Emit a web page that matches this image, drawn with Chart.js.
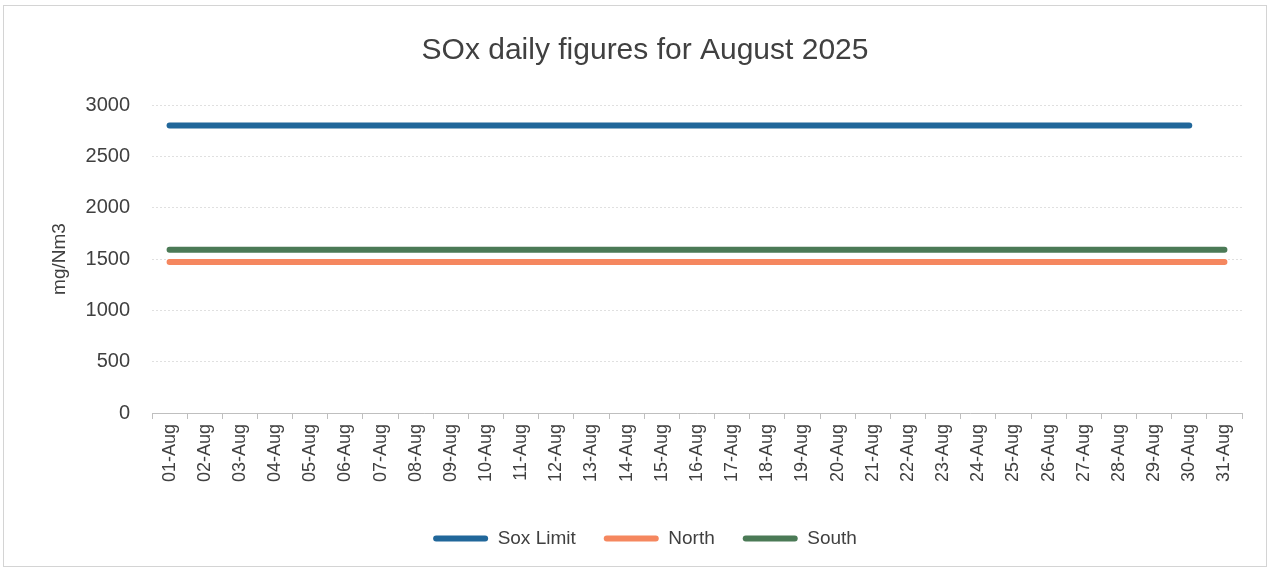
<!DOCTYPE html>
<html>
<head>
<meta charset="utf-8">
<script src="https://cdn.jsdelivr.net/npm/chart.js@4/dist/chart.umd.min.js"></script>
<style>
  html, body { margin: 0; padding: 0; background: #ffffff; }
  #frame { position: absolute; left: 3px; top: 5px; width: 1264px; height: 562px; border: 1px solid #d4d4d4; box-sizing: border-box; }
  #wrap { position: absolute; left: 0; top: 0; width: 1270px; height: 570px; }
</style>
</head>
<body>
<div id="frame"></div>
<div id="wrap"><canvas id="c" width="1270" height="570"></canvas></div>
<script>
const categories = ["01-Aug","02-Aug","03-Aug","04-Aug","05-Aug","06-Aug","07-Aug","08-Aug","09-Aug","10-Aug","11-Aug","12-Aug","13-Aug","14-Aug","15-Aug","16-Aug","17-Aug","18-Aug","19-Aug","20-Aug","21-Aug","22-Aug","23-Aug","24-Aug","25-Aug","26-Aug","27-Aug","28-Aug","29-Aug","30-Aug","31-Aug"];
const soxLimit = [2800,2800,2800,2800,2800,2800,2800,2800,2800,2800,2800,2800,2800,2800,2800,2800,2800,2800,2800,2800,2800,2800,2800,2800,2800,2800,2800,2800,2800,2800,null];
const north = [1470,1470,1470,1470,1470,1470,1470,1470,1470,1470,1470,1470,1470,1470,1470,1470,1470,1470,1470,1470,1470,1470,1470,1470,1470,1470,1470,1470,1470,1470,1470];
const south = [1590,1590,1590,1590,1590,1590,1590,1590,1590,1590,1590,1590,1590,1590,1590,1590,1590,1590,1590,1590,1590,1590,1590,1590,1590,1590,1590,1590,1590,1590,1590];
const yTicks = [0,500,1000,1500,2000,2500,3000];

const titleText = "SOx daily figures for August 2025";
const yTitle = "mg/Nm3";
const colors = { limit: "#21679a", north: "#f5875f", south: "#4b7a56" };

function ds(label, data, color) {
  return {
    label, data,
    borderColor: color, backgroundColor: color,
    borderWidth: 6, pointRadius: 0, pointHoverRadius: 0,
    borderCapStyle: "round", tension: 0, spanGaps: false
  };
}

new Chart(document.getElementById("c"), {
  type: "line",
  data: {
    labels: categories,
    datasets: [
      ds("Sox Limit", soxLimit, colors.limit),
      ds("North", north, colors.north),
      ds("South", south, colors.south)
    ]
  },
  options: {
    responsive: false,
    animation: false,
    layout: { padding: { left: 48, right: 28, top: 26, bottom: 12 } },
    plugins: {
      title: {
        display: true, text: titleText, color: "#404040",
        font: { family: "Liberation Sans", size: 30, weight: "normal" },
        padding: { top: 7, bottom: 36 }
      },
      legend: {
        display: true, position: "bottom",
        labels: {
          color: "#404040",
          font: { family: "Liberation Sans", size: 19 },
          boxWidth: 55, boxHeight: 6, padding: 28,
          useBorderRadius: true, borderRadius: 3,
          generateLabels: (chart) => {
            const items = Chart.defaults.plugins.legend.labels.generateLabels(chart);
            items.forEach(it => { it.lineWidth = 0; });
            return items;
          }
        }
      },
      tooltip: { enabled: false }
    },
    scales: {
      x: {
        offset: true,
        grid: { display: true, drawOnChartArea: false, drawTicks: true, tickLength: 6, offset: true, color: "#bfbfbf" },
        border: { display: true, color: "#bfbfbf", width: 1 },
        ticks: {
          color: "#404040", autoSkip: false, maxRotation: 90, minRotation: 90,
          font: { family: "Liberation Sans", size: 18 }, padding: 5
        },
        afterFit: (s) => { s.height = 88; }
      },
      y: {
        min: 0, max: 3000,
        afterBuildTicks: (s) => { s.ticks = yTicks.map(v => ({ value: v })); },
        grid: { color: "#e0e0e0", drawTicks: false, lineWidth: 1 },
        border: { display: false, dash: [2, 2] },
        ticks: {
          color: "#404040", padding: 22,
          font: { family: "Liberation Sans", size: 20 },
          callback: (v) => String(v)
        },
        title: {
          display: true, text: yTitle, color: "#404040",
          font: { family: "Liberation Sans", size: 19 }, padding: 0
        },
        afterFit: (s) => { s.width = 104; }
      }
    }
  }
});
</script>
</body>
</html>
